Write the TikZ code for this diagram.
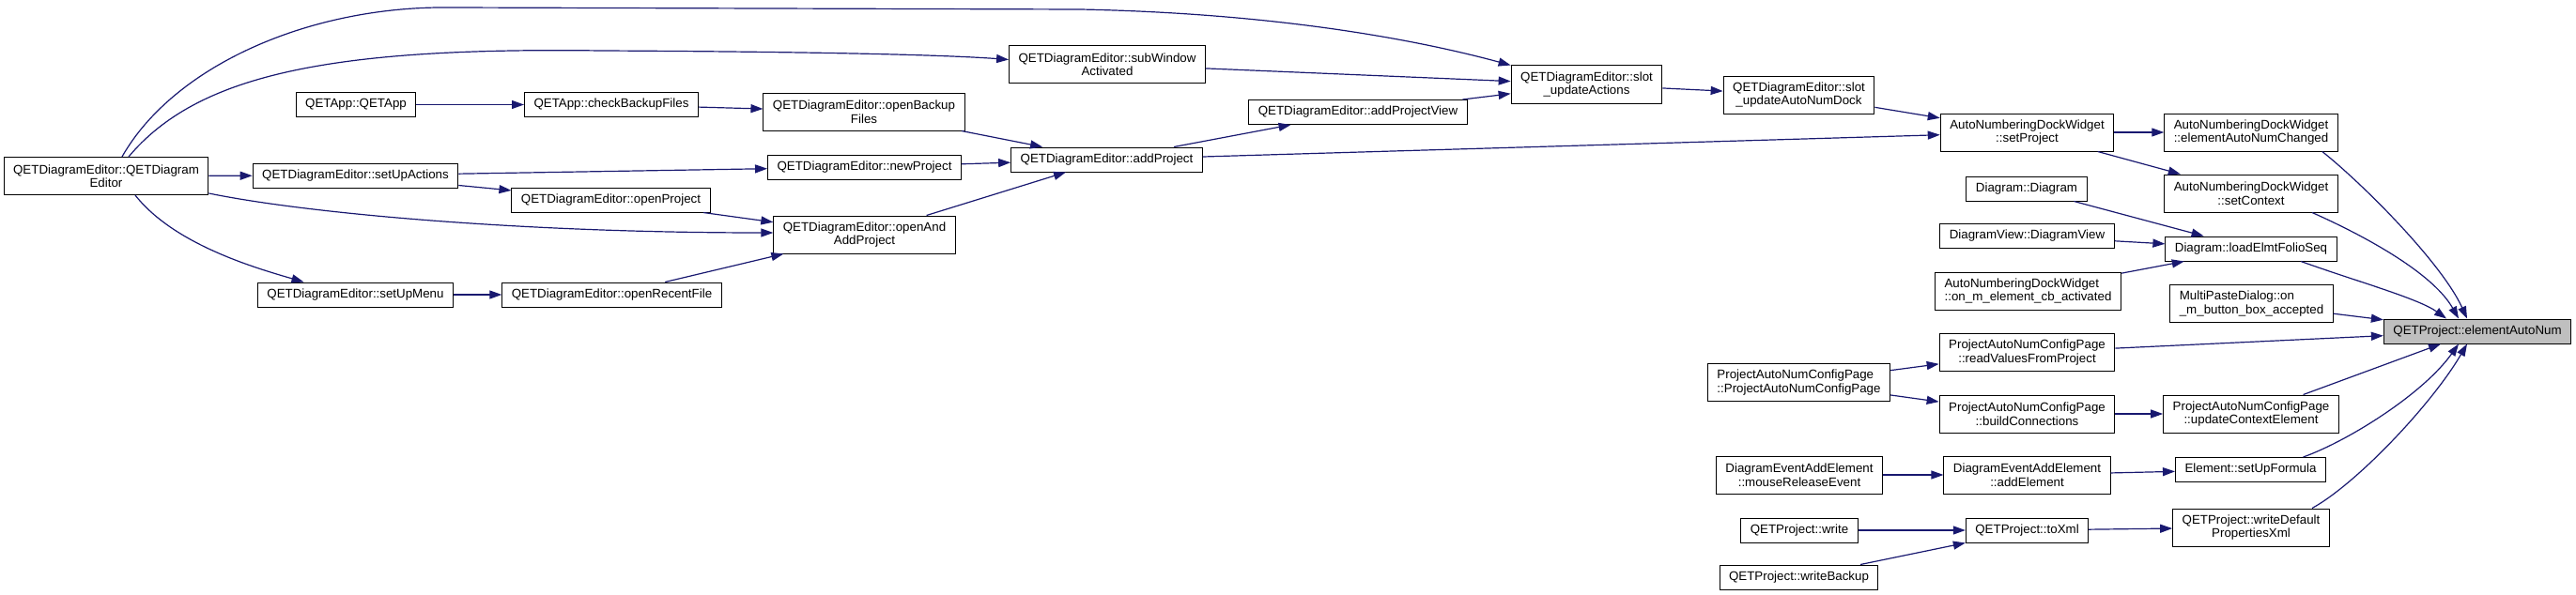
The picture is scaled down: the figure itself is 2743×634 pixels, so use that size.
\documentclass[tikz,border=0pt]{standalone}
\usepackage{fontspec}
\setmainfont{Liberation Sans}
\usetikzlibrary{arrows.meta}
\definecolor{edgeblue}{RGB}{25,25,112}
\definecolor{focusgray}{RGB}{191,191,191}

\begin{document}
\begin{tikzpicture}[x=1pt,y=-1pt,>={Triangle[length=13pt,width=9pt]},
  fn/.style={draw=black,line width=1pt,fill=white,inner xsep=10pt,inner ysep=3pt,minimum height=26pt,font=\fontsize{13.33}{14.5}\selectfont,align=center},
  fn2/.style={fn,minimum height=40pt},
  call/.style={->,edgeblue,line width=1.2pt}]
\useasboundingbox (0,0) rectangle (2743,634);
% callers, left part
\node[fn2] (qde) at (113,187.5) {QETDiagramEditor::QETDiagram\\Editor};
\node[fn] (setupact) at (378.5,187) {QETDiagramEditor::setUpActions};
\node[fn] (qetapp) at (379,111.5) {QETApp::QETApp};
\node[fn] (chkbackup) at (651,111.5) {QETApp::checkBackupFiles};
\node[fn] (openproj) at (650.5,213) {QETDiagramEditor::openProject};
\node[fn] (setupmenu) at (378.5,314) {QETDiagramEditor::setUpMenu};
\node[fn] (openrecent) at (651.5,314) {QETDiagramEditor::openRecentFile};
\node[fn2] (openbackup) at (920,119) {QETDiagramEditor::openBackup\\Files};
\node[fn] (newproj) at (920.5,178) {QETDiagramEditor::newProject};
\node[fn2] (openadd) at (920.5,250) {QETDiagramEditor::openAnd\\AddProject};
\node[fn2] (subwin) at (1179,68.5) {QETDiagramEditor::subWindow\\Activated};
\node[fn] (addproj) at (1178.5,170) {QETDiagramEditor::addProject};
\node[fn] (addview) at (1446,119.5) {QETDiagramEditor::addProjectView};
\node[fn2] (slotact) at (1689.5,90) {QETDiagramEditor::slot\\\_updateActions};
\node[fn2] (slotdock) at (1915.5,101) {QETDiagramEditor::slot\\\_updateAutoNumDock};
% callers, right part
\node[fn2] (setproj) at (2158.5,141) {AutoNumberingDockWidget\\::setProject};
\node[fn2] (numchanged) at (2397,141) {AutoNumberingDockWidget\\::elementAutoNumChanged};
\node[fn2] (setctx) at (2397,206) {AutoNumberingDockWidget\\::setContext};
\node[fn] (diagram) at (2158,201) {Diagram::Diagram};
\node[fn] (dview) at (2158.5,251.5) {DiagramView::DiagramView};
\node[fn] (foliosq) at (2397,265) {Diagram::loadElmtFolioSeq};
\node[fn2,align=left] (cbact) at (2159.5,310) {AutoNumberingDockWidget\\::on\_m\_element\_cb\_activated};
\node[fn2,align=left] (paste) at (2397.5,323.5) {MultiPasteDialog::on\\\_m\_button\_box\_accepted};
\node[fn,fill=focusgray] (elemnum) at (2638,353) {QETProject::elementAutoNum};
\node[fn2] (readvals) at (2158.5,375.5) {ProjectAutoNumConfigPage\\::readValuesFromProject};
\node[fn2,align=left] (cfgpage) at (1915.5,407.5) {ProjectAutoNumConfigPage\\::ProjectAutoNumConfigPage};
\node[fn2] (buildconn) at (2158.5,441) {ProjectAutoNumConfigPage\\::buildConnections};
\node[fn2] (updctx) at (2397,441) {ProjectAutoNumConfigPage\\::updateContextElement};
\node[fn2] (mouserel) at (1916,506) {DiagramEventAddElement\\::mouseReleaseEvent};
\node[fn2] (addelem) at (2158.5,506) {DiagramEventAddElement\\::addElement};
\node[fn] (formula) at (2396.5,500.5) {Element::setUpFormula};
\node[fn] (write) at (1916,565) {QETProject::write};
\node[fn] (toxml) at (2158.5,565) {QETProject::toXml};
\node[fn] (writebak) at (1915.5,615) {QETProject::writeBackup};
\node[fn2] (writedef) at (2397,562) {QETProject::writeDefault\\PropertiesXml};
% calls
\draw[call] ([xshift=17pt]qde.north) .. controls (185,70) and (330,6) .. (480,8) -- (1150,10) .. controls (1350,14) and (1500,40) .. (slotact.north west);
\draw[call] ([xshift=24pt]qde.north) .. controls (210,80) and (350,50) .. (640,54) .. controls (850,55) and (1000,58) .. ([yshift=5pt]subwin.west);
\draw[call] (qde) -- (setupact);
\draw[call] ([yshift=2pt]qde.south east) .. controls (330,228) and (560,248) .. ([yshift=2pt]openadd.west);
\draw[call] ([xshift=31pt]qde.south) .. controls (185,260) and (270,285) .. ([xshift=-55pt]setupmenu.north);
\draw[call] (qetapp) -- (chkbackup);
\draw[call] (chkbackup) -- (openbackup);
\draw[call] (setupact) -- (newproj);
\draw[call] (setupact) -- (openproj);
\draw[call] (setupmenu) -- (openrecent);
\draw[call] (openproj) -- (openadd);
\draw[call] (openrecent) -- (openadd);
\draw[call] (openbackup) -- (addproj);
\draw[call] (newproj) -- (addproj);
\draw[call] (openadd) -- (addproj);
\draw[call] (subwin) -- (slotact);
\draw[call] (addproj) -- (addview);
\draw[call] (addview) -- (slotact);
\draw[call] (addproj) -- (setproj);
\draw[call] (slotact) -- (slotdock);
\draw[call] (slotdock) -- (setproj);
\draw[call] (setproj) -- (numchanged);
\draw[call] (setproj) -- (setctx);
\draw[call] (diagram) -- (foliosq);
\draw[call] (dview) -- (foliosq);
\draw[call] (cbact) -- (foliosq);
\draw[call] (cfgpage) -- (readvals);
\draw[call] (cfgpage) -- (buildconn);
\draw[call] (buildconn) -- (updctx);
\draw[call] (mouserel) -- (addelem);
\draw[call] (addelem) -- (formula);
\draw[call] (write) -- (toxml);
\draw[call] (writebak) -- (toxml);
\draw[call] (toxml) -- (writedef);
% into QETProject::elementAutoNum
\draw[call] ([xshift=-17pt]numchanged.south east) .. controls (2515,195) and (2600,280) .. ([xshift=-11pt]elemnum.north);
\draw[call] ([xshift=65pt]setctx.south) .. controls (2515,250) and (2590,290) .. ([xshift=-20pt]elemnum.north);
\draw[call] ([xshift=53pt]foliosq.south) .. controls (2510,300) and (2575,318) .. ([xshift=-33pt]elemnum.north);
\draw[call] (paste) -- (elemnum);
\draw[call] (readvals) -- (elemnum);
\draw[call] (updctx) -- ([xshift=-39pt]elemnum.south);
\draw[call] ([xshift=56pt]formula.north) .. controls (2500,470) and (2580,420) .. ([xshift=-20pt]elemnum.south);
\draw[call] ([xshift=65pt]writedef.north) .. controls (2510,515) and (2590,430) .. ([xshift=-11pt]elemnum.south);
\end{tikzpicture}
\end{document}
